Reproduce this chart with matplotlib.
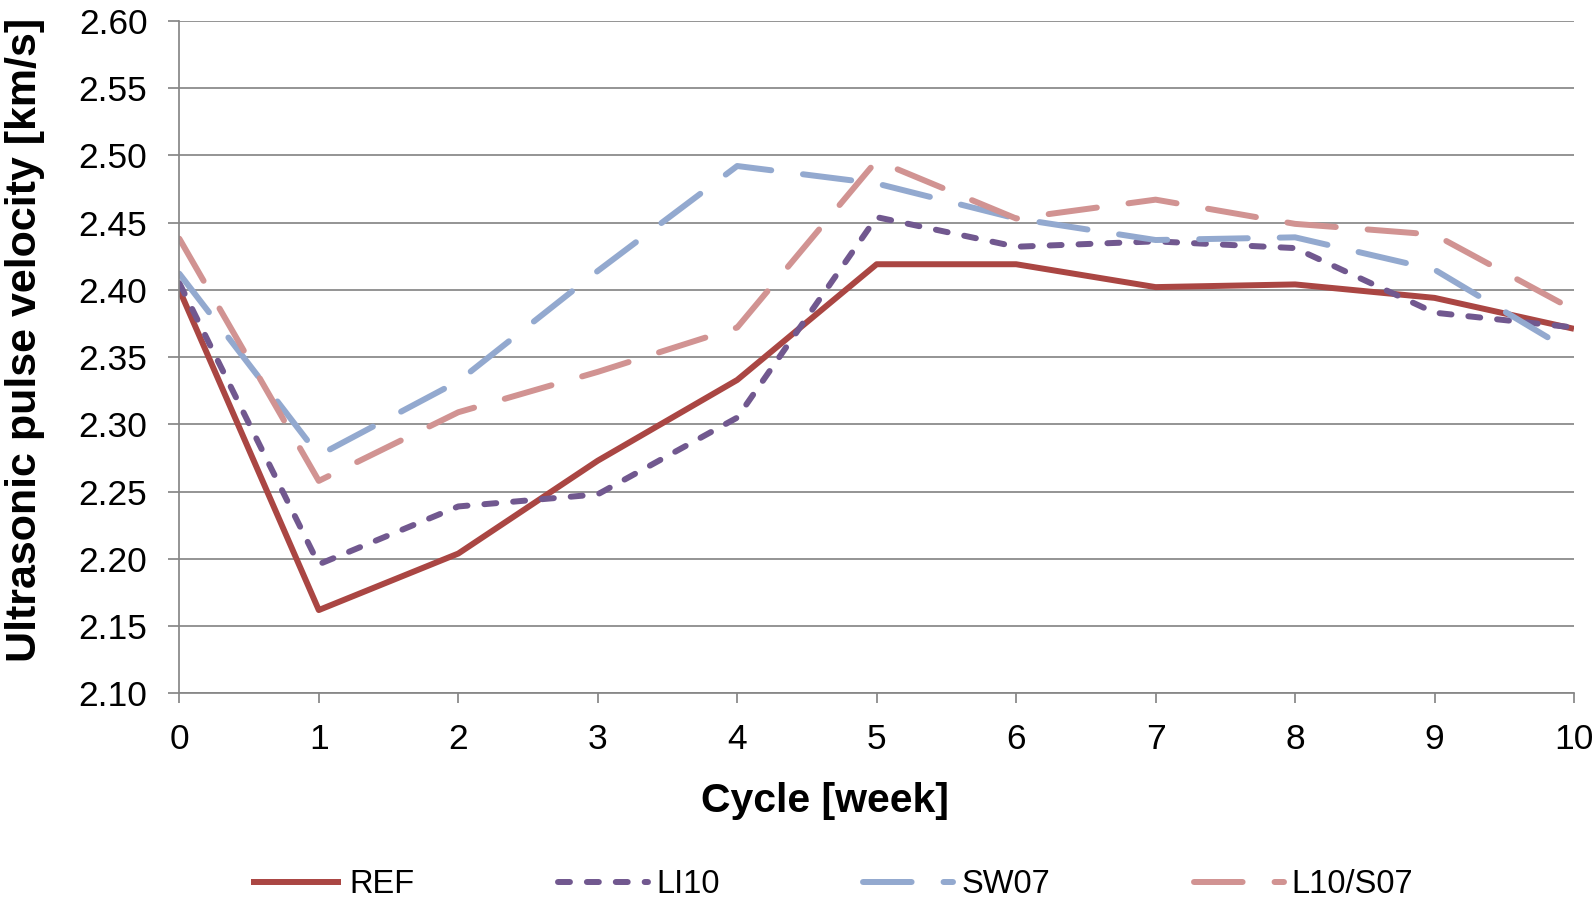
import matplotlib
matplotlib.use("Agg")
import matplotlib.pyplot as plt
from matplotlib.ticker import FormatStrFormatter

plt.rcParams['font.family'] = ['Liberation Sans', 'DejaVu Sans']
plt.rcParams['lines.scale_dashes'] = False

# values
cycles = [0, 1, 2, 3, 4, 5, 6, 7, 8, 9, 10]
ref = [2.400, 2.162, 2.204, 2.273, 2.333, 2.419, 2.419, 2.402, 2.404, 2.394, 2.371]
li10 = [2.405, 2.196, 2.239, 2.248, 2.305, 2.454, 2.432, 2.436, 2.431, 2.383, 2.372]
sw07 = [2.412, 2.277, 2.332, 2.414, 2.492, 2.479, 2.453, 2.437, 2.439, 2.415, 2.353]
l10s07 = [2.438, 2.258, 2.309, 2.339, 2.372, 2.496, 2.453, 2.467, 2.449, 2.441, 2.385]
y_ticks = [2.10, 2.15, 2.20, 2.25, 2.30, 2.35, 2.40, 2.45, 2.50, 2.55, 2.60]

grey = '#868686'
lw = 4.3

fig = plt.figure(figsize=(15.94, 9.07), dpi=100)
ax = fig.add_axes([0.1125, 0.2354, 0.87495, 0.7418])

ax.plot(cycles, ref, color='#AA4643', lw=lw, solid_joinstyle='round',
        solid_capstyle='butt', label='REF')
ax.plot(cycles, li10, color='#71588F', lw=lw, dashes=(8.6, 12.2),
        dash_capstyle='round', dash_joinstyle='round', label='LI10')
ax.plot(cycles, sw07, color='#93A9CF', lw=lw, dashes=(35, 23),
        dash_capstyle='round', dash_joinstyle='round', label='SW07')
ax.plot(cycles, l10s07, color='#D19392', lw=lw, dashes=(35, 23),
        dash_capstyle='round', dash_joinstyle='round', label='L10/S07')

ax.set_xlim(0, 10)
ax.set_ylim(2.10, 2.60)
ax.set_xticks(cycles)
ax.set_yticks(y_ticks)
ax.yaxis.set_major_formatter(FormatStrFormatter('%.2f'))

ax.grid(axis='y', color=grey, lw=1.25)
ax.set_axisbelow(True)
for side in ['top', 'right']:
    ax.spines[side].set_visible(False)
for side in ['left', 'bottom']:
    ax.spines[side].set_color(grey)
    ax.spines[side].set_linewidth(1.25)

ax.tick_params(axis='y', length=8, width=1.25, color=grey, pad=15, labelsize=25.5)
ax.tick_params(axis='x', length=7.2, width=1.25, color=grey, pad=14, labelsize=25.5)

ax.set_xlabel('Cycle [week]', fontsize=29.5, fontweight='bold', va='center')
ax.xaxis.set_label_coords(0.4626, -0.1598)
ax.set_ylabel('Ultrasonic pulse velocity [km/s]', fontsize=31, fontweight='bold',
              va='center')
ax.yaxis.set_label_coords(-0.1105, 0.526)

fig.legend(loc='center', bbox_to_anchor=(0.522, 0.0243), ncol=4, frameon=False,
           fontsize=23.5, handlelength=2.76, handletextpad=0.25, columnspacing=4.4)

fig.savefig('out.png', dpi=100)
